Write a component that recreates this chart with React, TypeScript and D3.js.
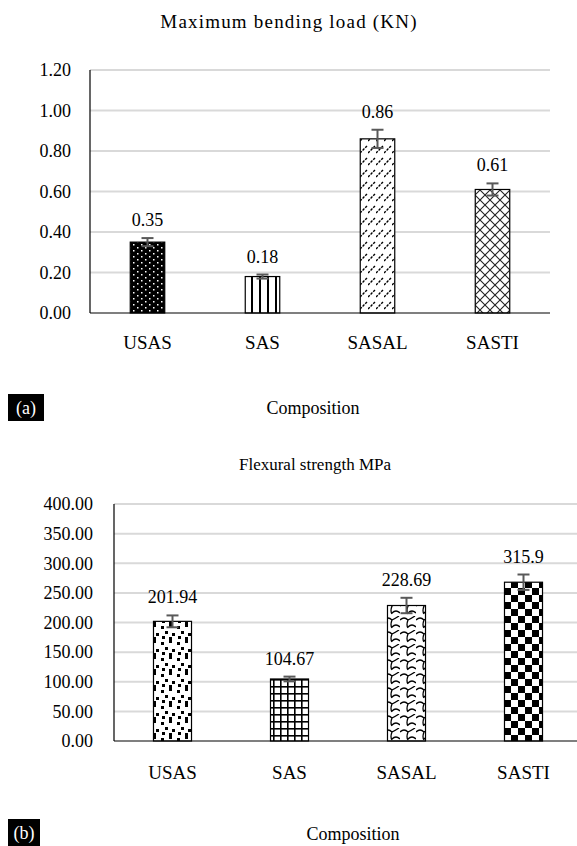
import React from 'react';
import * as d3 from 'd3';

// panel (a)
const categories = ['USAS', 'SAS', 'SASAL', 'SASTI'];
const loadValues = [0.35, 0.18, 0.86, 0.61];
const loadErrors = [0.02, 0.01, 0.045, 0.03];
const loadTicks = [0, 0.2, 0.4, 0.6, 0.8, 1.0, 1.2];

// panel (b) - bar heights as drawn in the picture, labels as printed
const strengthValues = [201.94, 104.67, 228.69, 268];
const strengthLabels = ['201.94', '104.67', '228.69', '315.9'];
const strengthErrors = [10, 4, 13, 13];
const strengthTicks = [0, 50, 100, 150, 200, 250, 300, 350, 400];

const FONT = "'Liberation Serif', 'Times New Roman', serif";

const Patterns = () => (
  <defs>
    {/* top chart */}
    <pattern id="pA0" width="8" height="6" patternUnits="userSpaceOnUse">
      <rect width="8" height="6" fill="#000" />
      <rect x="1" y="1" width="1.5" height="1.5" fill="#fff" />
      <rect x="5" y="4" width="1.5" height="1.5" fill="#fff" />
    </pattern>
    <pattern id="pA1" width="8" height="8" patternUnits="userSpaceOnUse">
      <rect width="8" height="8" fill="#fff" />
      <rect x="3" y="0" width="2" height="8" fill="#000" />
    </pattern>
    <pattern id="pA2" width="8" height="12" patternUnits="userSpaceOnUse">
      <rect width="8" height="12" fill="#fff" />
      <line x1="0" y1="9" x2="7" y2="2" stroke="#000" strokeWidth="1.4" strokeDasharray="2.5 1.2" />
    </pattern>
    <pattern id="pA3" width="10" height="10" patternUnits="userSpaceOnUse">
      <rect width="10" height="10" fill="#fff" />
      <path d="M0,0 L10,10 M10,0 L0,10" stroke="#222" strokeWidth="1.1" />
    </pattern>
    {/* bottom chart */}
    <pattern id="pB0" width="16" height="16" patternUnits="userSpaceOnUse">
      <rect width="16" height="16" fill="#fff" />
      <rect x="1" y="2" width="3" height="3" fill="#000" />
      <rect x="9" y="0" width="3" height="3" fill="#000" />
      <rect x="5" y="7" width="3" height="3" fill="#000" />
      <rect x="12" y="9" width="3" height="3" fill="#000" />
      <rect x="2" y="12" width="3" height="3" fill="#000" />
      <rect x="9" y="13" width="3" height="3" fill="#000" />
    </pattern>
    <pattern id="pB1" width="7" height="7" patternUnits="userSpaceOnUse">
      <rect width="7" height="7" fill="#fff" />
      <rect x="0" y="0" width="7" height="1.6" fill="#000" />
      <rect x="0" y="0" width="1.6" height="7" fill="#000" />
    </pattern>
    <pattern id="pB2" width="16" height="14" patternUnits="userSpaceOnUse">
      <rect width="16" height="14" fill="#fff" />
      <path d="M0,4 Q4,0 8,4 Q6,9 8,12 M8,11 Q12,7 16,11 M8,4 Q12,2 15,0"
        fill="none" stroke="#000" strokeWidth="1.3" />
    </pattern>
    <pattern id="pB3" width="14" height="14" patternUnits="userSpaceOnUse">
      <rect width="14" height="14" fill="#fff" />
      <rect x="0" y="0" width="7" height="7" fill="#000" />
      <rect x="7" y="7" width="7" height="7" fill="#000" />
    </pattern>
  </defs>
);

const Panel = (p: any) => {
  const x = d3.scaleBand<string>().domain(categories).range([p.left, p.right]).padding(0);
  const y = d3.scaleLinear().domain([0, p.yMax]).range([p.bottom, p.top]);
  const bw = x.bandwidth() * p.barFrac;
  const txt = { fontFamily: FONT };
  return (
    <g fill="#000">
      <text x={p.titleX} y={p.titleY} fontSize={p.titleSize} letterSpacing={p.titleSpacing}
        textAnchor="middle" style={txt}>{p.title}</text>
      {p.ticks.map((t: number) => (
        <g key={t}>
          {t > 0 && (
            <line x1={p.left} x2={p.gridRight} y1={y(t)} y2={y(t)} stroke="#d9d9d9" strokeWidth={2} />
          )}
          <text x={p.tickX} y={y(t)} dy="0.35em" fontSize={18} textAnchor="end" style={txt}>{t.toFixed(2)}</text>
        </g>
      ))}
      {categories.map((c, i) => {
        const cx = (x(c) as number) + x.bandwidth() / 2;
        const v = p.values[i];
        const e = p.errors[i];
        return (
          <g key={c}>
            <rect x={cx - bw / 2} y={y(v)} width={bw} height={y(0) - y(v)}
              fill={`url(#${p.patterns[i]})`} stroke="#000" strokeWidth={1.2} />
            <g stroke="#595959" strokeWidth={2}>
              <line x1={cx} x2={cx} y1={y(v + e)} y2={y(v - e)} />
              <line x1={cx - 6} x2={cx + 6} y1={y(v + e)} y2={y(v + e)} />
              <line x1={cx - 6} x2={cx + 6} y1={y(v - e)} y2={y(v - e)} />
            </g>
            <text x={cx} y={y(v + e) - 12} fontSize={18} textAnchor="middle" style={txt}>{p.labels[i]}</text>
            <text x={cx} y={p.catY} fontSize={19} textAnchor="middle" style={txt}>{c}</text>
          </g>
        );
      })}
      <line x1={p.left} x2={p.left} y1={p.top} y2={p.bottom} stroke="#000" strokeWidth={1.2} />
      <line x1={p.left} x2={p.gridRight} y1={p.bottom} y2={p.bottom} stroke="#000" strokeWidth={1.2} />
      <text x={p.axisTitleX} y={p.axisTitleY} fontSize={18} textAnchor="middle" style={txt}>Composition</text>
    </g>
  );
};

export default function App() {
  const lab = { fontFamily: FONT };
  return (
    <svg width={577} height={846} style={{ position: 'absolute', left: 0, top: 0, background: '#fff' }}>
      <rect width={577} height={846} fill="#fff" />
      <Patterns />
      <Panel
        values={loadValues} errors={loadErrors} labels={loadValues.map((v) => v.toFixed(2))}
        ticks={loadTicks} yMax={1.2} top={70} bottom={313} left={90} right={550} gridRight={550}
        tickX={71} barFrac={0.3} patterns={['pA0', 'pA1', 'pA2', 'pA3']}
        title="Maximum  bending load (KN)" titleSize={19} titleSpacing={1.2}
        titleX={289} titleY={28} catY={349} axisTitleX={313} axisTitleY={414}
      />
      <rect x={8} y={394} width={36} height={27} fill="#000" />
      <text x={26} y={414} fontSize={18} style={lab} fill="#fff" textAnchor="middle">(a)</text>
      <Panel
        values={strengthValues} errors={strengthErrors} labels={strengthLabels}
        ticks={strengthTicks} yMax={400} top={504} bottom={741} left={114} right={582} gridRight={577}
        tickX={93} barFrac={0.325} patterns={['pB0', 'pB1', 'pB2', 'pB3']}
        title="Flexural strength MPa" titleSize={17} titleSpacing={0}
        titleX={315} titleY={470} catY={779} axisTitleX={353} axisTitleY={840}
      />
      <rect x={8} y={819} width={32} height={27} fill="#000" />
      <text x={24} y={839} fontSize={18} style={lab} fill="#fff" textAnchor="middle">(b)</text>
    </svg>
  );
}
